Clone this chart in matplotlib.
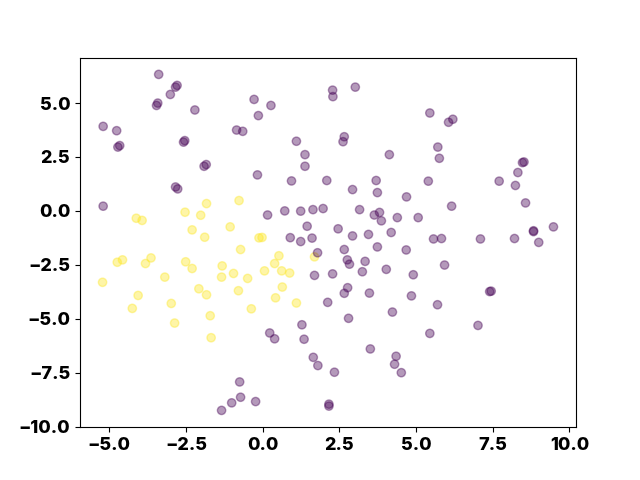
import matplotlib
matplotlib.use("Agg")
import matplotlib.pyplot as plt
from matplotlib.ticker import MultipleLocator
import numpy as np

plt.rcParams['font.family'] = ['Inter', 'DejaVu Sans']
plt.rcParams['font.weight'] = 'bold'

purple_x = [-3.39, -2.79, -2.84, -3.01, -3.42, -3.46, -2.21, -0.28, 0.27, -0.14,
            -5.20, -4.76, -4.66, -4.72, -0.85, -0.65, -2.54, -2.58, 1.10, 1.38,
            1.38, -1.84, -1.91, -0.17, 0.94, 2.09, -2.84, -2.77, -5.20, 0.16,
            0.72, 1.24, 1.64, 1.97, 1.45, 0.90, 1.24, 1.61, 2.28, 2.29,
            3.02, 5.45, 6.20, 6.06, 2.66, 2.62, 5.71, 5.76, 4.13, 8.52,
            8.47, 8.32, 8.24, 7.71, 8.57, 3.70, 2.93, 3.74, 5.40, 4.69,
            6.16, 3.16, 3.81, 3.64, 3.87, 4.39, 5.07, 2.46, 2.93, 3.45,
            4.19, 5.57, 5.83, 7.10, 8.21, 8.83, 8.83, 9.48, 9.00, 3.74,
            2.66, 2.76, 2.83, 3.34, 4.68, 2.28, 3.25, 4.03, 4.91, 5.93,
            2.77, 2.66, 3.48, 4.85, 2.12, 5.70, 7.40, 7.45, 4.23, 2.80,
            7.02, 5.45, 3.51, 4.35, 4.30, 4.52, 2.34, 2.16, 2.16, 1.79,
            1.69, 1.28, 1.35, 0.23, 0.39, 1.65, 1.80, -0.75, -0.72, -1.01,
            -1.34, -0.23]
purple_y = [6.33, 5.82, 5.74, 5.40, 5.00, 4.89, 4.68, 5.17, 4.89, 4.42,
            3.92, 3.72, 3.03, 2.96, 3.75, 3.69, 3.26, 3.19, 3.23, 2.61,
            2.07, 2.15, 2.07, 1.67, 1.39, 1.41, 1.11, 1.02, 0.22, -0.19,
            0.00, -0.01, 0.06, 0.11, -0.71, -1.24, -1.42, -1.26, 5.60, 5.30,
            5.74, 4.54, 4.25, 4.11, 3.44, 3.21, 2.96, 2.44, 2.61, 2.27,
            2.24, 1.78, 1.18, 1.38, 0.37, 1.41, 0.99, 0.85, 1.38, 0.65,
            0.22, 0.06, -0.07, -0.19, -0.46, -0.31, -0.31, -0.83, -1.16, -1.09,
            -1.00, -1.30, -1.28, -1.30, -1.28, -0.92, -0.96, -0.74, -1.46, -1.67,
            -1.79, -2.27, -2.47, -2.34, -1.81, -2.92, -2.82, -2.71, -2.96, -2.51,
            -3.56, -3.82, -3.81, -3.94, -4.24, -4.35, -3.74, -3.72, -4.69, -4.98,
            -5.31, -5.68, -6.40, -6.74, -7.11, -7.50, -7.48, -8.96, -9.05, -1.94,
            -2.99, -5.28, -5.95, -5.66, -5.93, -6.79, -7.17, -7.93, -8.64, -8.90,
            -9.25, -8.84]

yellow_x = [-4.12, -3.93, -2.53, -1.83, -0.77, -2.02, -2.30, -1.06, -1.89, -0.12,
            -0.02, -0.72, -4.74, -4.57, -3.82, -3.64, -2.51, -2.30, -1.32, -1.34,
            -0.95, -0.49, 0.06, 0.39, 0.53, 0.62, 0.88, 1.69, -5.22, -3.19,
            -4.06, -4.25, -2.98, -2.87, -2.08, -1.83, -0.79, -1.71, -1.68, -0.37,
            0.42, 0.64, 1.10]
yellow_y = [-0.34, -0.44, -0.06, 0.34, 0.48, -0.20, -0.88, -0.74, -1.22, -1.25,
            -1.23, -1.79, -2.38, -2.27, -2.44, -2.18, -2.36, -2.67, -2.55, -3.07,
            -2.90, -3.13, -2.78, -2.44, -2.08, -2.78, -2.88, -2.13, -3.31, -3.07,
            -3.92, -4.52, -4.29, -5.20, -3.61, -3.89, -3.70, -4.86, -5.88, -4.54,
            -4.03, -3.53, -4.27]

x = np.array(yellow_x + purple_x)
y = np.array(yellow_y + purple_y)
labels = np.array([1] * len(yellow_x) + [0] * len(purple_x))

fig, ax = plt.subplots(figsize=(6.4, 4.8), dpi=100)
ax.scatter(x, y, c=labels, cmap='viridis', alpha=0.4)
ax.xaxis.set_major_locator(MultipleLocator(2.5))
ax.yaxis.set_major_locator(MultipleLocator(2.5))
ax.tick_params(labelsize=13)
for lab in ax.get_xticklabels() + ax.get_yticklabels():
    lab.set_fontweight(800)
fig.savefig('out.png', dpi=100)
